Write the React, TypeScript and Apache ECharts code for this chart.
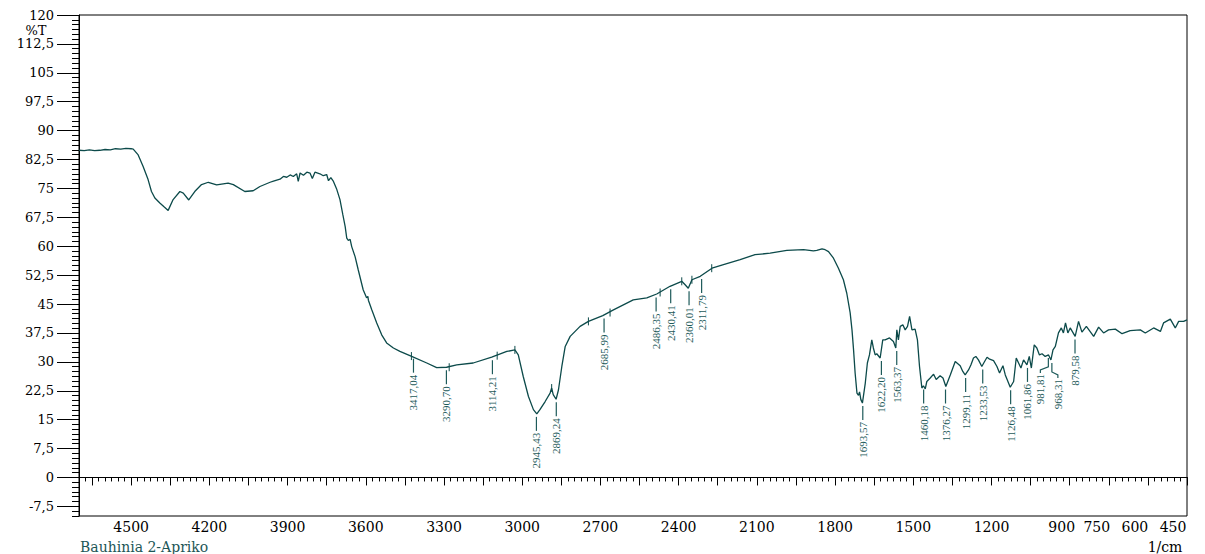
import React, { useEffect, useRef } from 'react';
import * as echarts from 'echarts';

// ---- spectrum data (wavenumber 1/cm, %T) ----
const wavenumbers = [
  4700, 4680, 4660, 4640, 4620, 4600, 4580, 4560, 4540, 4520, 4500, 4492, 4473, 4454, 4435, 4422, 4409, 4390, 4375, 4358,
  4339, 4313, 4300, 4279, 4256, 4230, 4204, 4172, 4128, 4108, 4064, 4032, 4006, 3967, 3954, 3929, 3916, 3903, 3890, 3878,
  3865, 3859, 3852, 3839, 3826, 3814, 3805, 3795, 3776, 3763, 3750, 3743, 3734, 3724, 3711, 3699, 3688, 3679, 3673, 3667,
  3660, 3654, 3641, 3629, 3610, 3597, 3592, 3590, 3577, 3558, 3539, 3520, 3494, 3469, 3424, 3366, 3328, 3290, 3251, 3188,
  3117, 3059, 3028, 3015, 2996, 2976, 2957, 2944, 2932, 2912, 2893, 2887, 2881, 2870, 2861, 2848, 2835, 2816, 2778, 2746,
  2691, 2650, 2574, 2522, 2484, 2433, 2388, 2375, 2363, 2349, 2317, 2272, 2228, 2164, 2107, 2049, 1985, 1921, 1883, 1870,
  1850, 1838, 1825, 1806, 1787, 1768, 1755, 1742, 1735, 1729, 1723, 1716, 1710, 1706, 1701, 1695, 1684, 1676, 1668, 1659,
  1653, 1646, 1640, 1627, 1617, 1608, 1591, 1576, 1567, 1563, 1557, 1550, 1540, 1531, 1522, 1514, 1505, 1493, 1484, 1476,
  1467, 1461, 1454, 1448, 1435, 1422, 1412, 1397, 1386, 1375, 1358, 1339, 1320, 1310, 1301, 1288, 1279, 1269, 1260, 1250,
  1237, 1228, 1217, 1207, 1192, 1179, 1169, 1156, 1147, 1128, 1115, 1105, 1096, 1087, 1077, 1064, 1055, 1047, 1036, 1026,
  1016, 1006, 994, 981, 972, 964, 955, 943, 932, 924, 916, 907, 898, 879, 866, 853, 836, 808, 789, 770,
  751, 725, 699, 668, 629, 610, 578, 552, 540, 514, 495, 482, 463, 450,
];
const transmittance = [
  84.9, 84.8, 85.0, 84.8, 84.9, 85.1, 85.0, 85.3, 85.2, 85.4, 85.3, 85.2, 83.7, 80.7, 77.3, 74.2, 72.5, 71.2, 70.3, 69.3,
  72.1, 74.2, 73.8, 72.0, 74.2, 76.0, 76.6, 75.9, 76.4, 76.0, 74.2, 74.4, 75.5, 76.6, 76.9, 77.4, 78.1, 77.9, 78.5, 78.1,
  78.8, 76.8, 79.0, 78.4, 79.2, 79.0, 77.6, 79.2, 78.8, 78.3, 78.6, 77.0, 77.8, 76.8, 74.7, 72.1, 68.2, 65.1, 62.1, 61.5,
  61.8, 59.9, 57.3, 53.9, 48.7, 46.6, 47.0, 46.0, 43.5, 40.1, 37.0, 34.9, 33.6, 32.7, 31.4, 29.7, 28.5, 28.6, 29.2, 29.7,
  31.2, 32.7, 33.1, 31.8, 26.2, 21.0, 17.6, 16.5, 17.6, 19.7, 21.9, 23.2, 21.5, 20.3, 22.7, 28.8, 34.0, 36.6, 39.2, 40.5,
  42.0, 43.5, 46.1, 46.6, 47.6, 49.6, 50.9, 50.0, 49.1, 51.3, 52.2, 54.3, 55.2, 56.5, 57.8, 58.2, 58.9, 59.1, 58.8, 58.9,
  59.3, 59.1, 58.6, 56.9, 54.3, 51.3, 47.8, 42.7, 38.3, 33.1, 27.1, 21.9, 21.3, 22.2, 20.2, 19.3, 24.5, 29.7, 31.8, 35.7,
  33.6, 31.8, 32.1, 31.0, 35.7, 35.7, 36.2, 35.3, 33.6, 38.3, 35.7, 39.2, 39.6, 38.3, 39.2, 41.8, 38.3, 38.5, 35.7, 28.8,
  23.2, 23.8, 23.0, 24.9, 25.8, 26.8, 25.4, 26.4, 25.8, 23.6, 26.6, 30.1, 29.0, 27.5, 26.6, 27.9, 29.2, 31.0, 31.4, 30.5,
  28.8, 29.9, 31.2, 30.7, 30.3, 28.8, 27.1, 29.0, 26.6, 23.4, 24.9, 31.0, 29.7, 28.4, 30.5, 29.2, 31.4, 28.4, 34.4, 33.6,
  31.8, 32.1, 31.4, 31.8, 30.5, 33.1, 34.0, 37.5, 38.8, 37.5, 40.1, 37.5, 38.8, 36.6, 40.5, 37.7, 39.2, 36.6, 39.0, 37.5,
  38.3, 38.5, 37.3, 38.1, 38.3, 37.5, 38.8, 37.9, 40.1, 41.1, 38.8, 40.5, 40.5, 40.9,
];

// ---- labelled peaks ----
const peakWavenumbers = [
  3417.04, 3290.7, 3114.21, 2945.43, 2869.24, 2685.99, 2486.35, 2430.41, 2360.01, 2311.79, 1693.57,
  1622.2, 1563.37, 1460.18, 1376.27, 1299.11, 1233.53, 1126.48, 1061.86, 981.81, 968.31, 879.58,
];
const peakTransmittance = [
  31.6, 28.6, 31.2, 16.5, 20.3, 42.0, 47.5, 49.6, 49.1, 52.3, 19.3,
  31.0, 33.6, 23.6, 23.6, 26.6, 28.8, 23.4, 29.2, 31.8, 30.5, 36.6,
];

// ---- unlabelled peak-pick markers on the curve ----
const markerWavenumbers = [3425, 3280, 3096, 3028, 2887, 2746, 2663, 2471, 2388, 2349, 2273];
const markerTransmittance = [31.5, 28.6, 31.6, 33.1, 23.2, 40.5, 42.8, 48.0, 50.9, 51.3, 54.3];

// ---- axis labels ----
const xLabelValues = [4500, 4200, 3900, 3600, 3300, 3000, 2700, 2400, 2100, 1800, 1500, 1200, 900, 750, 600, 450];
const yLabelValues = [-7.5, 0, 7.5, 15, 22.5, 30, 37.5, 45, 52.5, 60, 67.5, 75, 82.5, 90, 97.5, 105, 112.5, 120];

const CURVE = '#0c4a4a';
const LABEL = '#1d5a5a';
const SERIF = '"DejaVu Serif", "Liberation Serif", serif';

const xMajorTicks: number[] = [];
for (let v = 450; v <= 4700; v += 150) xMajorTicks.push(v);
const yMinorTicks: number[] = [];
for (let i = -8; i <= 96; i++) yMinorTicks.push(i * 1.25);

// label shifts (px) for crowded low-wavenumber tick labels
const xLabelStyleKey: Record<number, string> = { 900: 'a', 750: 'b', 600: 'c', 450: 'd' };
// horizontal offsets (px) of peak labels whose leader line is bent
const peakLabelShift: Record<string, number> = { '981,81': -8, '968,31': 6 };

const fmt = (v: number) => String(v).replace('.', ',');

export default function App() {
  const ref = useRef<HTMLDivElement>(null);
  useEffect(() => {
    if (!ref.current) return;
    const chart = echarts.init(ref.current, null, { renderer: 'svg' });
    const lineData = wavenumbers.map((w, i) => [w, transmittance[i]]);
    const peakData = peakWavenumbers.map((w, i) => [w, peakTransmittance[i]]);
    const markerData = markerWavenumbers.map((w, i) => [w, markerTransmittance[i]]);

    const richBase = { fontFamily: SERIF, fontSize: 14, color: '#000' };
    chart.setOption({
      animation: false,
      backgroundColor: '#fff',
      grid: { left: 79, right: 18, top: 15, bottom: 38, show: true, borderColor: '#000', borderWidth: 1, containLabel: false },
      xAxis: [
        {
          type: 'value', inverse: true, min: 450, max: 4700, interval: 25,
          axisLine: { show: true, lineStyle: { color: '#000', width: 1 } },
          axisTick: { show: true, length: 4, lineStyle: { color: '#000' } },
          axisLabel: { show: false },
          splitLine: { show: false },
        },
        {
          type: 'value', inverse: true, min: 450, max: 4700, position: 'bottom',
          axisLine: { show: false },
          axisTick: { show: true, length: 8, customValues: xMajorTicks, lineStyle: { color: '#000' } },
          axisLabel: {
            show: true, customValues: xLabelValues, margin: 4, showMinLabel: true, showMaxLabel: true,
            fontFamily: SERIF, fontSize: 14, color: '#000',
            formatter: (v: number) => {
              const k = xLabelStyleKey[v];
              return k ? `{${k}|${v}}` : `${v}`;
            },
            rich: {
              a: { ...richBase, padding: [0, 16, 0, 0] },
              b: { ...richBase, padding: [0, 24, 0, 0] },
              c: { ...richBase, padding: [0, 26, 0, 0] },
              d: { ...richBase, padding: [0, 28, 0, 0] },
            },
          },
          splitLine: { show: false },
        },
      ],
      yAxis: [
        {
          type: 'value', min: -10, max: 120,
          axisLine: { show: true, lineStyle: { color: '#000', width: 1 } },
          axisTick: { show: true, length: 7, customValues: yMinorTicks, lineStyle: { color: '#000' } },
          axisLabel: { show: false },
          splitLine: { show: false },
        },
        {
          type: 'value', min: -10, max: 120, position: 'left',
          axisLine: { show: false },
          axisTick: { show: true, length: 22, customValues: yLabelValues, lineStyle: { color: '#000' } },
          axisLabel: {
            show: true, customValues: yLabelValues, margin: 25,
            fontFamily: SERIF, fontSize: 13, color: '#000',
            formatter: (v: number) => fmt(v),
          },
          splitLine: { show: false },
        },
      ],
      graphic: [
        { type: 'text', x: 36, y: 30, style: { text: '%T', font: `13px ${SERIF}`, fill: '#000', align: 'center', verticalAlign: 'middle' } },
        { type: 'text', x: 1165, y: 547, style: { text: '1/cm', font: `14px ${SERIF}`, fill: '#000', align: 'center', verticalAlign: 'middle' } },
        { type: 'text', x: 80, y: 547, style: { text: 'Bauhinia 2-Apriko', font: `14px ${SERIF}`, fill: '#1c5656', align: 'left', verticalAlign: 'middle' } },
      ],
      series: [
        {
          type: 'line', xAxisIndex: 0, yAxisIndex: 0, data: lineData, showSymbol: false, symbol: 'none',
          lineStyle: { color: CURVE, width: 1.3 }, silent: true, z: 3,
        },
        {
          type: 'custom', xAxisIndex: 0, yAxisIndex: 0, data: markerData, silent: true, z: 4,
          renderItem: (_p: any, api: any) => {
            const [px, py] = api.coord([api.value(0), api.value(1)]);
            return { type: 'line', shape: { x1: px, y1: py - 4, x2: px, y2: py + 4 }, style: { stroke: CURVE, lineWidth: 1 } };
          },
        },
        {
          type: 'custom', xAxisIndex: 0, yAxisIndex: 0, data: peakData, silent: true, z: 4,
          renderItem: (_p: any, api: any) => {
            const wn = api.value(0);
            const [px, py] = api.coord([wn, api.value(1)]);
            const label = wn.toFixed(2).replace('.', ',');
            const dx = peakLabelShift[label] || 0;
            const children: any[] = [];
            if (dx === 0) {
              children.push({ type: 'line', shape: { x1: px, y1: py + 3, x2: px, y2: py + 17 }, style: { stroke: LABEL, lineWidth: 1.2 } });
            } else {
              children.push({
                type: 'polyline',
                shape: { points: [[px, py + 3], [px, py + 12], [px + dx, py + 15], [px + dx, py + 18]] },
                style: { stroke: LABEL, lineWidth: 1.2, fill: 'none' },
              });
            }
            children.push({
              type: 'text', x: px + dx, y: py + 19, rotation: Math.PI / 2,
              style: { text: label, font: '11px "Liberation Serif", serif', fill: LABEL, align: 'right', verticalAlign: 'middle' },
            });
            return { type: 'group', children };
          },
        },
      ],
    });
    return () => chart.dispose();
  }, []);
  return <div ref={ref} style={{ position: 'absolute', left: 0, top: 0, width: 1205, height: 554 }} />;
}
